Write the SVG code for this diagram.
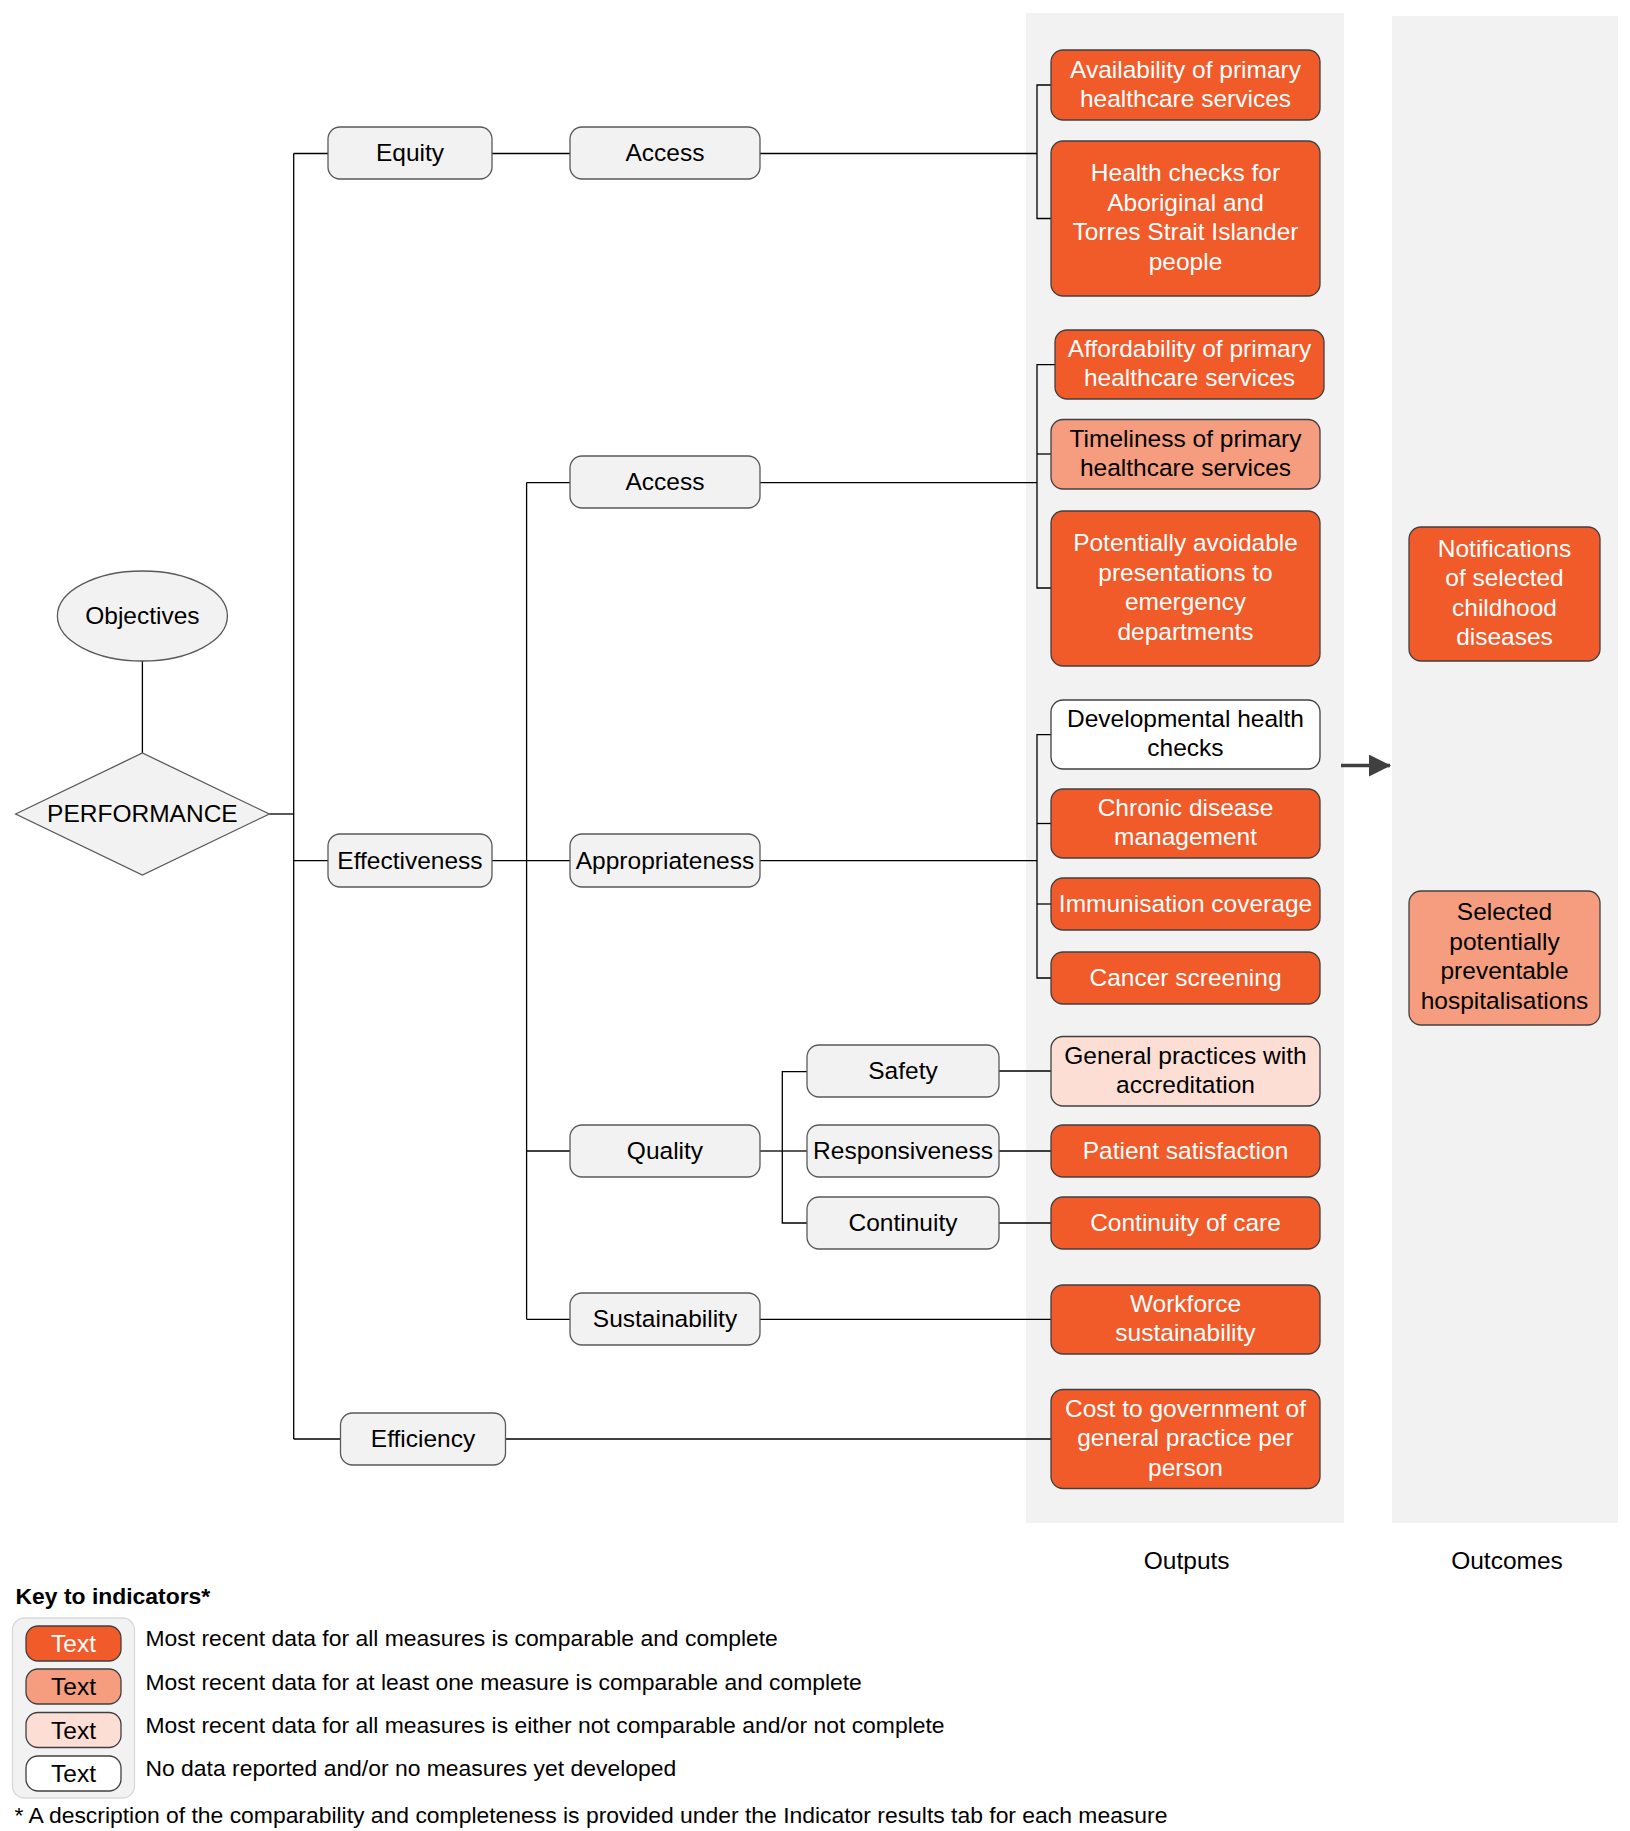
<svg xmlns="http://www.w3.org/2000/svg" width="1630" height="1831" viewBox="0 0 1630 1831">
<defs>
<style>
text{font-family:"Liberation Sans",Arial,sans-serif;font-size:24.5px;fill:#000;text-anchor:middle}
.node{fill:#f2f2f2;stroke:#595959;stroke-width:1.3}
.o1{fill:#f15a29;stroke:#404040;stroke-width:1.3}
.o2{fill:#f59d7e;stroke:#404040;stroke-width:1.3}
.o3{fill:#fcded4;stroke:#404040;stroke-width:1.3}
.o4{fill:#ffffff;stroke:#404040;stroke-width:1.3}
.w{fill:#fff}
.panel{fill:#f2f2f2}
.conn path{fill:none;stroke:#000;stroke-width:1.3}
.leg{font-size:22.9px;text-anchor:start}
.lt{font-size:24.5px}
</style>
<marker id="arr" viewBox="0 0 22 22" refX="21" refY="11" markerWidth="22" markerHeight="22" markerUnits="userSpaceOnUse" orient="auto">
<path d="M0,0 L22,11 L0,22 Z" fill="#404040"/>
</marker>
</defs>
<rect width="1630" height="1831" fill="#fff"/>
<rect class="panel" x="1026" y="13" width="318" height="1510"/>
<rect class="panel" x="1392" y="16" width="226" height="1507"/>

<g class="conn" id="connectors">
<path d="M142.4 661 V753"/>
<path d="M269.3 814 H293.7"/>
<path d="M293.7 153.5 V1439"/>
<path d="M293.7 153.5 H328"/>
<path d="M293.7 860.7 H328"/>
<path d="M293.7 1439 H340.5"/>
<path d="M492 153.5 H570"/>
<path d="M760 153.5 H1037"/>
<path d="M1051 85 H1037 V218.5 H1051"/>
<path d="M492 860.7 H570"/>
<path d="M526.6 482.6 V1319.3"/>
<path d="M526.6 482.6 H570"/>
<path d="M526.6 1151 H570"/>
<path d="M526.6 1319.3 H570"/>
<path d="M760 482.6 H1037"/>
<path d="M1055 364.7 H1037 V588 H1051"/>
<path d="M1037 454 H1051"/>
<path d="M760 860.7 H1037"/>
<path d="M1051 734.6 H1037 V978 H1051"/>
<path d="M1037 823.5 H1051"/>
<path d="M1037 904 H1051"/>
<path d="M760 1151 H782.3"/>
<path d="M807 1071.6 H782.3 V1223 H807"/>
<path d="M782.3 1151 H807"/>
<path d="M999 1071 H1051"/>
<path d="M999 1151 H1051"/>
<path d="M999 1223 H1051"/>
<path d="M760 1319.3 H1051"/>
<path d="M505 1439 H1051"/>
<path d="M1341 765.6 H1390" style="stroke:#404040;stroke-width:3.5" marker-end="url(#arr)"/>
</g>

<g id="objectives"><ellipse class="node" cx="142.4" cy="616" rx="85" ry="45"/><text x="142.4" y="623.5">Objectives</text></g>
<g id="performance"><polygon class="node" points="15.6,814 142.4,753 269.3,814 142.4,875"/><text x="142.4" y="822">PERFORMANCE</text></g>

<g id="equity"><rect class="node" x="328" y="127" width="164" height="52" rx="12"/><text x="410" y="160.5">Equity</text></g>
<g id="access1"><rect class="node" x="570" y="127" width="190" height="52" rx="12"/><text x="665" y="160.5">Access</text></g>
<g id="access2"><rect class="node" x="570" y="456" width="190" height="52" rx="12"/><text x="665" y="489.5">Access</text></g>
<g id="effectiveness"><rect class="node" x="328" y="834" width="164" height="53" rx="12"/><text x="410" y="868.5">Effectiveness</text></g>
<g id="appropriateness"><rect class="node" x="570" y="834" width="190" height="53" rx="12"/><text x="665" y="868.5">Appropriateness</text></g>
<g id="quality"><rect class="node" x="570" y="1125" width="190" height="52" rx="12"/><text x="665" y="1158.5">Quality</text></g>
<g id="sustainability"><rect class="node" x="570" y="1293" width="190" height="52" rx="12"/><text x="665" y="1326.5">Sustainability</text></g>
<g id="efficiency"><rect class="node" x="340.5" y="1413" width="165" height="52" rx="12"/><text x="423" y="1446.5">Efficiency</text></g>
<g id="safety"><rect class="node" x="807" y="1045" width="192" height="52" rx="12"/><text x="903" y="1078.5">Safety</text></g>
<g id="responsiveness"><rect class="node" x="807" y="1125" width="192" height="52" rx="12"/><text x="903" y="1158.5">Responsiveness</text></g>
<g id="continuity"><rect class="node" x="807" y="1197" width="192" height="52" rx="12"/><text x="903" y="1230.5">Continuity</text></g>

<g id="availability"><rect class="o1" x="1051" y="50" width="269" height="70" rx="12"/><text class="w" x="1185.5" y="77.5">Availability of primary</text><text class="w" x="1185.5" y="106.5">healthcare services</text></g>
<g id="healthchecks"><rect class="o1" x="1051" y="141" width="269" height="155" rx="12"/><text class="w" x="1185.5" y="181">Health checks for</text><text class="w" x="1185.5" y="210.5">Aboriginal and</text><text class="w" x="1185.5" y="240">Torres Strait Islander</text><text class="w" x="1185.5" y="269.5">people</text></g>
<g id="affordability"><rect class="o1" x="1055" y="330" width="269" height="69" rx="12"/><text class="w" x="1189.5" y="356.5">Affordability of primary</text><text class="w" x="1189.5" y="385.5">healthcare services</text></g>
<g id="timeliness"><rect class="o2" x="1051" y="419.5" width="269" height="69.5" rx="12"/><text x="1185.5" y="446.5">Timeliness of primary</text><text x="1185.5" y="475.5">healthcare services</text></g>
<g id="potentially"><rect class="o1" x="1051" y="511" width="269" height="155" rx="12"/><text class="w" x="1185.5" y="551">Potentially avoidable</text><text class="w" x="1185.5" y="580.5">presentations to</text><text class="w" x="1185.5" y="610">emergency</text><text class="w" x="1185.5" y="639.5">departments</text></g>
<g id="developmental"><rect class="o4" x="1051" y="700" width="269" height="69" rx="12"/><text x="1185.5" y="726.5">Developmental health</text><text x="1185.5" y="755.5">checks</text></g>
<g id="chronic"><rect class="o1" x="1051" y="789" width="269" height="69" rx="12"/><text class="w" x="1185.5" y="815.5">Chronic disease</text><text class="w" x="1185.5" y="844.5">management</text></g>
<g id="immunisation"><rect class="o1" x="1051" y="878" width="269" height="52" rx="12"/><text class="w" x="1185.5" y="912">Immunisation coverage</text></g>
<g id="cancer"><rect class="o1" x="1051" y="952" width="269" height="52" rx="12"/><text class="w" x="1185.5" y="986">Cancer screening</text></g>
<g id="generalpractices"><rect class="o3" x="1051" y="1036.5" width="269" height="69.5" rx="12"/><text x="1185.5" y="1063.5">General practices with</text><text x="1185.5" y="1092.5">accreditation</text></g>
<g id="patient"><rect class="o1" x="1051" y="1125" width="269" height="52" rx="12"/><text class="w" x="1185.5" y="1159">Patient satisfaction</text></g>
<g id="continuitycare"><rect class="o1" x="1051" y="1197" width="269" height="52" rx="12"/><text class="w" x="1185.5" y="1231">Continuity of care</text></g>
<g id="workforce"><rect class="o1" x="1051" y="1285" width="269" height="69" rx="12"/><text class="w" x="1185.5" y="1311.5">Workforce</text><text class="w" x="1185.5" y="1340.5">sustainability</text></g>
<g id="cost"><rect class="o1" x="1051" y="1389.5" width="269" height="99" rx="12"/><text class="w" x="1185.5" y="1416.5">Cost to government of</text><text class="w" x="1185.5" y="1446">general practice per</text><text class="w" x="1185.5" y="1475.5">person</text></g>

<g id="notifications"><rect class="o1" x="1409" y="527" width="191" height="134" rx="12"/><text class="w" x="1504.5" y="556.5">Notifications</text><text class="w" x="1504.5" y="586">of selected</text><text class="w" x="1504.5" y="615.5">childhood</text><text class="w" x="1504.5" y="645">diseases</text></g>
<g id="selected"><rect class="o2" x="1409" y="891" width="191" height="134" rx="12"/><text x="1504.5" y="920">Selected</text><text x="1504.5" y="949.5">potentially</text><text x="1504.5" y="979">preventable</text><text x="1504.5" y="1008.5">hospitalisations</text></g>

<text x="1186.7" y="1569">Outputs</text>
<text x="1507" y="1569">Outcomes</text>

<g id="legend">
<text class="leg" x="15.6" y="1604" style="font-weight:bold">Key to indicators*</text>
<rect x="12.5" y="1618" width="122" height="180" rx="12" fill="#f2f2f2" stroke="#d9d9d9" stroke-width="1.3"/>
<rect class="o1" x="26" y="1626" width="95" height="35" rx="12"/><text class="w lt" x="73.5" y="1652">Text</text>
<rect class="o2" x="26" y="1669" width="95" height="35" rx="12"/><text class="lt" x="73.5" y="1695">Text</text>
<rect class="o3" x="26" y="1712.5" width="95" height="35" rx="12"/><text class="lt" x="73.5" y="1738.5">Text</text>
<rect class="o4" x="26" y="1756" width="95" height="35" rx="12"/><text class="lt" x="73.5" y="1782">Text</text>
<text class="leg" x="145.5" y="1646">Most recent data for all measures is comparable and complete</text>
<text class="leg" x="145.5" y="1690">Most recent data for at least one measure is comparable and complete</text>
<text class="leg" x="145.5" y="1733">Most recent data for all measures is either not comparable and/or not complete</text>
<text class="leg" x="145.5" y="1776">No data reported and/or no measures yet developed</text>
<text class="leg" x="14.6" y="1822.5">* A description of the comparability and completeness is provided under the Indicator results tab for each measure</text>
</g>
</svg>
